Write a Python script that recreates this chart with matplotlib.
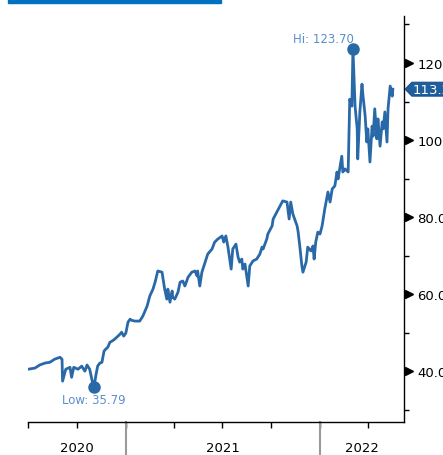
import numpy as np
import pandas as pd
import matplotlib
matplotlib.use("Agg")
import matplotlib.pyplot as plt
import matplotlib.dates as mdates
from matplotlib.patches import Rectangle, Polygon
from matplotlib.transforms import blended_transform_factory

# ------------------------------------------------------------------
# data
# ------------------------------------------------------------------
dates = [
    "2020-07-01", "2020-07-14", "2020-07-23", "2020-08-02", "2020-08-11", "2020-08-20",
    "2020-08-30", "2020-09-03", "2020-09-04", "2020-09-10", "2020-09-18", "2020-09-21",
    "2020-09-25", "2020-10-03", "2020-10-10", "2020-10-16", "2020-10-20", "2020-10-25",
    "2020-10-29", "2020-11-02", "2020-11-06", "2020-11-09", "2020-11-13", "2020-11-17",
    "2020-11-21", "2020-11-24", "2020-11-28", "2020-12-02", "2020-12-06", "2020-12-11",
    "2020-12-17", "2020-12-21", "2020-12-24", "2020-12-28", "2021-01-01", "2021-01-05",
    "2021-01-09", "2021-01-12", "2021-01-18", "2021-01-27", "2021-02-02", "2021-02-10",
    "2021-02-15", "2021-02-21", "2021-02-25", "2021-03-02", "2021-03-10", "2021-03-12",
    "2021-03-15", "2021-03-19", "2021-03-21", "2021-03-25", "2021-03-29", "2021-03-30",
    "2021-04-03", "2021-04-09", "2021-04-13", "2021-04-18", "2021-04-22", "2021-04-28",
    "2021-05-05", "2021-05-11", "2021-05-15", "2021-05-16", "2021-05-20", "2021-05-24",
    "2021-05-30", "2021-06-04", "2021-06-12", "2021-06-17", "2021-06-23", "2021-07-01",
    "2021-07-04", "2021-07-08", "2021-07-12", "2021-07-18", "2021-07-21", "2021-07-27",
    "2021-07-31", "2021-08-03", "2021-08-07", "2021-08-09", "2021-08-13", "2021-08-19",
    "2021-08-22", "2021-08-28", "2021-09-04", "2021-09-10", "2021-09-14", "2021-09-16",
    "2021-09-23", "2021-09-25", "2021-10-03", "2021-10-05", "2021-10-12", "2021-10-18",
    "2021-10-23", "2021-10-31", "2021-11-04", "2021-11-07", "2021-11-11", "2021-11-19",
    "2021-11-21", "2021-11-24", "2021-11-28", "2021-11-30", "2021-12-06", "2021-12-09",
    "2021-12-15", "2021-12-19", "2021-12-21", "2021-12-24", "2021-12-28", "2022-01-01",
    "2022-01-05", "2022-01-10", "2022-01-16", "2022-01-20", "2022-01-24", "2022-01-29",
    "2022-02-02", "2022-02-04", "2022-02-08", "2022-02-11", "2022-02-13", "2022-02-17",
    "2022-02-23", "2022-02-26", "2022-03-02", "2022-03-04", "2022-03-08", "2022-03-12",
    "2022-03-13", "2022-03-17", "2022-03-21", "2022-03-23", "2022-03-27", "2022-03-30",
    "2022-04-01", "2022-04-05", "2022-04-09", "2022-04-11", "2022-04-14", "2022-04-18",
    "2022-04-20", "2022-04-24", "2022-04-28", "2022-04-30", "2022-05-03", "2022-05-07",
    "2022-05-09", "2022-05-13", "2022-05-17", "2022-05-18",
]
prices = [
    40.5, 40.8, 41.6, 42.1, 42.3, 43.1,
    43.6, 43.1, 37.4, 40.5, 41.0, 38.4,
    41.0, 40.5, 41.3, 40.0, 41.6, 40.5,
    37.9, 35.79, 39.2, 41.3, 42.1, 42.3,
    45.2, 45.7, 46.2, 47.5, 47.8, 48.3,
    49.1, 49.6, 50.1, 49.1, 49.9, 52.7,
    53.5, 53.2, 53.0, 53.0, 54.3, 56.9,
    59.5, 61.3, 63.1, 66.0, 65.7, 63.9,
    61.3, 58.7, 61.3, 57.9, 60.8, 59.2,
    58.7, 60.5, 63.1, 63.4, 62.1, 64.4,
    65.7, 66.0, 64.7, 66.0, 62.1, 65.7,
    68.3, 70.4, 71.7, 73.5, 74.3, 75.1,
    73.5, 75.1, 72.2, 66.5, 71.7, 73.0,
    69.6, 68.3, 69.1, 66.5, 67.8, 62.1,
    67.3, 68.6, 69.1, 70.4, 72.2, 71.7,
    74.3, 75.6, 77.7, 79.5, 81.3, 82.9,
    84.2, 83.9, 79.5, 83.9, 80.8, 77.7,
    76.1, 72.5, 67.3, 65.7, 68.3, 72.2,
    71.2, 72.5, 69.1, 73.5, 76.1, 75.6,
    77.7, 82.1, 86.5, 83.9, 87.3, 88.1,
    91.7, 89.9, 93.2, 95.8, 91.7, 92.5,
    91.7, 110.6, 108.8, 123.7, 108.8, 102.9,
    95.1, 107.3, 114.5, 111.4, 106.2, 99.5,
    102.9, 94.3, 103.6, 101.0, 108.1, 100.3,
    105.5, 98.4, 104.7, 102.9, 107.3, 99.5,
    108.1, 114.0, 111.4, 113.2,
]
y_major = [40, 60, 80, 100, 120]
y_minor = [30, 50, 70, 90, 110, 130]
years = [2020, 2021, 2022]

x_start, x_end = "2020-07-01", "2022-06-08"
y_lo, y_hi = 26.8, 132.2

LINE = "#2a69a8"
LABEL = "#5a8fcc"

# ------------------------------------------------------------------
# plot
# ------------------------------------------------------------------
s = pd.Series(prices, index=pd.to_datetime(dates))

fig = plt.figure(figsize=(4.43, 4.56), dpi=100)
ax = fig.add_axes([28 / 443, 33 / 456, 376 / 443, 406 / 456])

ax.plot(s.index, s.values, color=LINE, linewidth=2.0, solid_joinstyle="round")

ax.set_xlim(pd.Timestamp(x_start), pd.Timestamp(x_end))
ax.set_ylim(y_lo, y_hi)

# hi / low markers
i_hi, i_lo = s.values.argmax(), s.values.argmin()
for i, txt, dy, va in [(i_hi, "Hi: %.2f" % s.values[i_hi], 3, "bottom"),
                       (i_lo, "Low: %.2f" % s.values[i_lo], -4, "top")]:
    ax.plot(s.index[i], s.values[i], "o", color=LINE, markersize=8, clip_on=False)
    ha = "right" if i == i_hi else "center"
    ax.annotate(txt, (s.index[i], s.values[i]), xytext=(0 if ha == "center" else 1, dy),
                textcoords="offset points", ha=ha, va=va, fontsize=8.5, color=LABEL)

# spines
for side in ["left", "top"]:
    ax.spines[side].set_visible(False)
ax.spines["right"].set_linewidth(1.0)
ax.spines["bottom"].set_linewidth(1.0)

# y axis on the right, triangle markers for major ticks
ax.yaxis.tick_right()
ax.set_yticks(y_major)
ax.set_yticks(y_minor, minor=True)
ax.set_yticklabels(["%.2f" % v for v in y_major])
ax.tick_params(axis="y", which="major", length=0, pad=9.5, labelsize=9.5)
ax.tick_params(axis="y", which="minor", length=3.5, width=1.0)
tr = blended_transform_factory(ax.transAxes, ax.transData)
ax.plot([1.013] * len(y_major), y_major, ">", color="black", markersize=6,
        transform=tr, clip_on=False)

# last value tag
last = s.values[-1]
h = 1.8
tag = Polygon([(1.003, last), (1.021, last + h), (1.2, last + h),
               (1.2, last - h), (1.021, last - h)], closed=True,
              facecolor="#1f5f9e", edgecolor="#1a4f85", linewidth=0.8,
              transform=tr, clip_on=False, zorder=5)
ax.add_patch(tag)
ax.text(1.024, last, "%.2f" % last, transform=tr, color="white", fontsize=9.5,
        va="center", ha="left", zorder=6, clip_on=False)

# x axis: quarter ticks, year separators and centred year labels
ax.xaxis.set_major_locator(mdates.MonthLocator(bymonth=[1, 4, 7, 10]))
ax.xaxis.set_major_formatter(plt.NullFormatter())
ax.tick_params(axis="x", which="major", length=4, width=1.0, color="black")

trx = blended_transform_factory(ax.transData, ax.transAxes)
x0, x1 = ax.get_xlim()
for yr in years:
    a = max(mdates.date2num(pd.Timestamp(f"{yr}-01-01")), x0)
    b = min(mdates.date2num(pd.Timestamp(f"{yr + 1}-01-01")), x1)
    if mdates.date2num(pd.Timestamp(f"{yr}-01-01")) > x0:
        ax.plot([a, a], [0, -0.09], color="#9a9a9a", linewidth=1.5,
                transform=trx, clip_on=False)
    ax.text((a + b) / 2, -0.064, str(yr), transform=trx, ha="center", va="center",
            fontsize=9.5)

# title bar stub at the top
fig.patches.append(Rectangle((8 / 443, 1 - 4 / 456), 213 / 443, 4 / 456,
                             transform=fig.transFigure, color="#0070c0"))

fig.savefig("out.png", dpi=100)
